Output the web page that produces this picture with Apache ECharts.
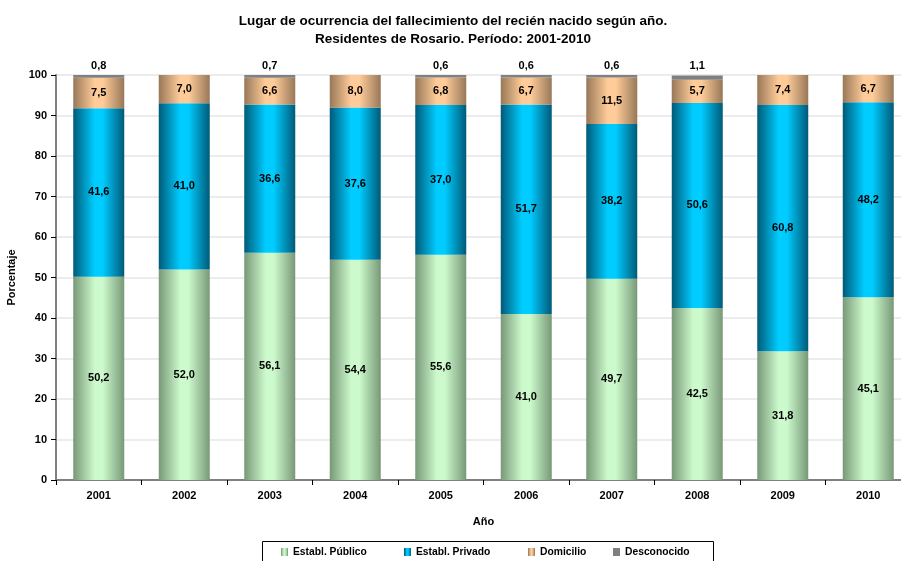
<!DOCTYPE html>
<html><head><meta charset="utf-8">
<script src="https://cdn.jsdelivr.net/npm/echarts@6/dist/echarts.min.js"></script>
<style>html,body{margin:0;padding:0;background:#fff}#c{width:901px;height:561px}</style>
</head><body><div id="c"></div>
<script>
const years = ['2001','2002','2003','2004','2005','2006','2007','2008','2009','2010'];
const publico = [50.2, 52.0, 56.1, 54.4, 55.6, 41.0, 49.7, 42.5, 31.8, 45.1];
const privado = [41.6, 41.0, 36.6, 37.6, 37.0, 51.7, 38.2, 50.6, 60.8, 48.2];
const domicilio = [7.5, 7.0, 6.6, 8.0, 6.8, 6.7, 11.5, 5.7, 7.4, 6.7];
const desconocido = [0.8, 0, 0.7, 0, 0.6, 0.6, 0.6, 1.1, 0, 0];
const seriesNames = ['Establ. Público','Establ. Privado','Domicilio','Desconocido'];

const FONT = '"Liberation Sans", Arial, sans-serif';
function grad(dark, light){
  return {type:'linear',x:0,y:0,x2:1,y2:0,colorStops:[
    {offset:0,color:dark},{offset:0.42,color:light},{offset:0.58,color:light},{offset:1,color:dark}]};
}
const fmt = p => p.value ? p.value.toFixed(1).replace('.', ',') : '';
const lbl = {show:true, formatter:fmt, color:'#000', fontFamily:FONT, fontWeight:'bold', fontSize:11};
const legendX = [281, 404, 528, 613];
const legends = seriesNames.map((n, i) => ({
  left: legendX[i], top: 547, padding:0, itemWidth:7, itemHeight:8, icon:'rect',
  textStyle:{fontFamily:FONT, fontWeight:'bold', fontSize:10.3, color:'#000'},
  data:[n]
}));
const chart = echarts.init(document.getElementById('c'), null, {renderer:'canvas'});
chart.setOption({
  animation:false,
  title:{text:'Lugar de ocurrencia del fallecimiento del recién nacido según año.\nResidentes de Rosario. Período: 2001-2010',
    left:448, textAlign:'center', top:7,
    textStyle:{fontFamily:FONT, fontWeight:'bold', fontSize:13.5, lineHeight:18, color:'#000'}},
  graphic:[{type:'rect', shape:{x:262.5, y:541.5, width:451, height:30},
    style:{fill:'none', stroke:'#000', lineWidth:1}, silent:true}],
  legend: legends,
  grid:{left:56, top:75, right:-10, height:405, outerBoundsMode:'none'},
  xAxis:{type:'category', data:years, name:'Año', nameLocation:'middle', nameGap:36,
    nameTextStyle:{fontFamily:FONT, fontWeight:'bold', fontSize:11, color:'#000'},
    axisLine:{lineStyle:{color:'#808080', width:2}},
    axisTick:{show:true, length:5, lineStyle:{color:'#000'}},
    axisLabel:{fontFamily:FONT, fontWeight:'bold', fontSize:11, color:'#000', margin:10}},
  yAxis:{type:'value', min:0, max:100, interval:10, name:'Porcentaje', nameLocation:'middle', nameGap:37,
    nameTextStyle:{fontFamily:FONT, fontWeight:'bold', fontSize:11, color:'#000'},
    axisLine:{show:true, lineStyle:{color:'#808080', width:2}},
    axisTick:{show:true, length:5, lineStyle:{color:'#000'}},
    axisLabel:{fontFamily:FONT, fontWeight:'bold', fontSize:11, color:'#000', margin:9},
    splitLine:{lineStyle:{color:'#e6e6e6', width:1.5}}},
  series:[
    {name:seriesNames[0], type:'bar', stack:'a', barWidth:51, data:publico,
      itemStyle:{color:grad('#789878','#ccfacc')}, label:lbl},
    {name:seriesNames[1], type:'bar', stack:'a', data:privado,
      itemStyle:{color:grad('#005a78','#00ccff')}, label:lbl},
    {name:seriesNames[2], type:'bar', stack:'a', data:domicilio,
      itemStyle:{color:grad('#987858','#ffcc99')}, label:lbl},
    {name:seriesNames[3], type:'bar', stack:'a', data:desconocido, clip:true,
      itemStyle:{color:'#808080'}, label:Object.assign({}, lbl, {position:'top', distance:4})}
  ]
});
</script></body></html>
